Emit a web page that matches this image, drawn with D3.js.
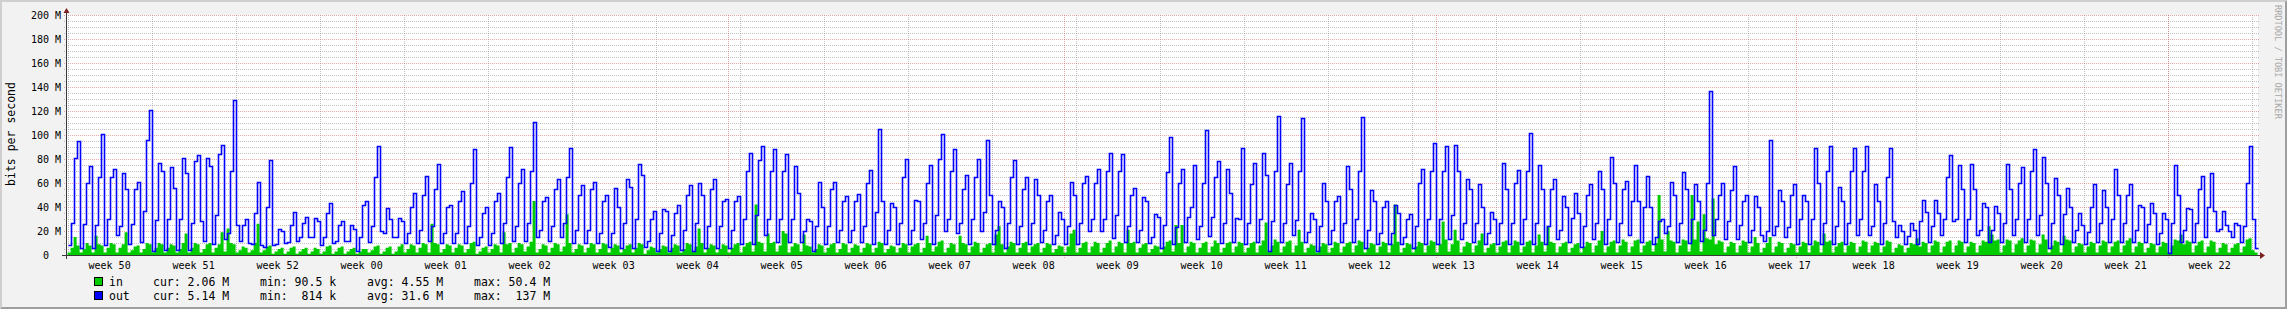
<!DOCTYPE html>
<html>
<head>
<meta charset="utf-8">
<script src="https://cdn.jsdelivr.net/npm/d3@7"></script>
<style>
  body { margin: 0; background: #f2f2f2; }
  svg { display: block; }
  text { font-family: "DejaVu Sans Mono", monospace; fill: #000; }
</style>
</head>
<body>
<svg id="chart" width="2287" height="309"></svg>
<script>

// ---------- data ----------

const weekLabels = ["week 50","week 51","week 52","week 00","week 01","week 02","week 03",
  "week 04","week 05","week 06","week 07","week 08","week 09","week 10","week 11","week 12",
  "week 13","week 14","week 15","week 16","week 17","week 18","week 19","week 20","week 21","week 22"];

const yTicks = [0, 20, 40, 60, 80, 100, 120, 140, 160, 180, 200];
const yTickLabels = ["0  ","20 M","40 M","60 M","80 M","100 M","120 M","140 M","160 M","180 M","200 M"];

const seriesNames = ["in", "out"];
const legendCur = ["2.06 M", "5.14 M"];
const legendMin = ["90.5 k", " 814 k"];
const legendAvg = ["4.55 M", "31.6 M"];
const legendMax = ["50.4 M", " 137 M"];

// 6 hour samples in Mbit/s, first one is Mon 8 Dec 2014 00:00, one line per week
const inValues = [
  2,6,15,8, 2,5,10,8, 2,16,9,8, 2,6,10,9, 2,6,9,19, 2,4,7,8, 2,5,10,9,
  2,6,10,9, 2,6,9,8, 2,5,10,18, 2,6,10,9, 2,5,9,10, 2,6,9,19, 3,22,10,9,
  2,4,7,6, 2,4,10,26, 2,4,7,8, 1,3,5,6, 1,3,6,7, 1,3,5,6, 1,3,6,5,
  1,3,7,8, 1,3,6,7, 1,3,5,6, 1,3,5,5, 2,4,7,8, 1,3,6,7, 1,3,7,9,
  2,5,9,8, 2,6,10,9, 2,26,10,9, 2,5,9,8, 2,6,9,8, 2,5,10,11, 1,3,6,7,
  2,5,9,8, 2,19,9,10, 2,6,10,9, 3,7,11,45, 2,5,9,8, 2,6,10,9, 3,7,34,10,
  2,5,9,8, 2,6,10,9, 2,5,10,9, 2,6,9,8, 2,5,8,9, 2,6,10,9, 1,4,7,6,
  2,5,8,7, 2,6,9,8, 2,5,10,9, 3,7,22,10, 2,6,9,8, 2,5,9,8, 2,6,9,10,
  2,7,10,11, 3,42,11,10, 3,18,10,11, 3,8,20,18, 2,7,10,9, 3,17,8,7, 2,5,9,8,
  2,6,9,10, 2,5,10,9, 2,6,9,8, 2,6,10,9, 2,6,11,10, 2,5,8,7, 2,6,10,9,
  2,7,9,10, 2,6,16,10, 3,7,11,12, 2,6,10,9, 2,16,10,9, 2,7,11,10, 2,6,9,10,
  2,17,24,9, 2,7,11,10, 2,6,10,11, 2,7,9,10, 2,6,10,9, 2,5,8,7, 2,7,18,21,
  2,6,10,11, 2,7,11,10, 2,6,10,12, 2,7,11,10, 2,21,10,11, 2,6,9,10, 2,5,8,7,
  2,7,11,12, 3,25,10,25, 2,7,11,10, 2,6,10,11, 2,7,12,10, 2,6,10,11, 2,7,11,10,
  2,6,10,11, 2,8,12,27, 3,8,13,11, 2,7,11,12, 2,8,21,11, 2,6,9,8, 2,7,10,9,
  2,6,11,10, 2,7,10,11, 2,8,12,11, 2,6,10,9, 2,7,11,10, 2,9,42,11, 2,6,10,9,
  2,7,11,10, 2,8,12,11, 2,9,28,13, 3,9,21,12, 2,7,11,10, 2,8,12,18, 2,6,9,10,
  2,7,11,12, 2,8,12,11, 2,7,11,12, 2,8,17,11, 3,24,11,10, 2,7,10,11, 2,6,9,10,
  2,7,11,10, 2,8,12,20, 2,7,11,12, 2,8,13,11, 2,7,12,13, 2,8,11,12, 3,10,50,13,
  3,20,12,11, 2,8,13,12, 3,50,13,28, 3,34,14,13, 47,9,12,11, 2,7,11,10, 2,8,12,11,
  2,7,15,10, 2,6,10,15, 2,7,11,10, 2,6,10,9, 2,7,11,10, 2,8,12,11, 2,18,11,12,
  2,7,10,11, 2,8,11,10, 2,7,12,11, 2,8,11,10, 2,7,12,11, 2,6,9,8, 2,6,10,9,
  14,7,11,10, 2,8,12,11, 2,7,11,12, 2,8,12,11, 2,7,11,10, 2,8,12,11, 24,17,12,13,
  2,8,13,12, 2,9,12,14, 2,8,13,12, 2,9,17,13, 2,8,12,11, 2,16,13,12, 2,7,10,9,
  2,7,11,10, 2,8,12,11, 2,7,11,12, 2,8,12,14, 2,7,11,10, 2,6,10,9, 2,7,11,10,
  2,8,13,12, 17,9,12,11, 2,8,11,12, 2,7,12,11, 2,6,10,9, 2,6,9,10, 2,7,13,14,
  4,2
];

const outValues = [
  8,27,81,95, 6,26,60,74, 6,25,65,101, 8,30,65,72, 17,24,68,55, 9,26,55,61, 11,37,96,121,
  3,29,77,70, 4,30,73,56, 4,30,81,68, 4,27,78,83, 28,12,81,74, 9,33,84,92, 13,18,70,129,
  25,12,25,30, 10,9,35,61, 8,7,40,79, 8,9,22,20, 10,11,25,36, 12,15,27,32, 15,15,31,28,
  8,15,35,43, 10,12,25,28, 12,12,25,22, 3,15,42,45, 11,24,65,91, 20,18,39,30, 15,15,31,28,
  10,18,40,52, 10,21,50,66, 12,24,55,76, 10,18,40,42, 10,18,45,53, 10,24,60,88, 8,15,35,40,
  8,18,45,52, 10,27,65,90, 12,24,60,72, 12,27,70,111, 15,21,45,48, 12,24,55,63, 15,27,65,89,
  10,21,50,58, 10,21,55,61, 10,18,45,50, 7,18,56,40, 6,27,63,57, 6,30,76,67, 7,12,30,37,
  3,18,38,37, 3,17,35,42, 4,21,50,58, 3,27,60,50, 6,24,55,63, 6,24,45,47, 6,21,45,49,
  9,30,70,85, 9,33,79,91, 17,30,70,88, 11,30,70,84, 11,30,74,52, 11,20,30,28, 3,24,61,40,
  9,24,55,61, 11,21,45,49, 11,21,45,51, 11,24,60,71, 9,36,105,45, 9,21,43,40, 9,27,65,80,
  9,21,46,45, 13,27,60,75, 9,33,80,101, 20,30,70,88, 18,27,55,67, 9,30,65,80, 20,36,96,50,
  9,21,45,40, 6,27,65,79, 9,24,55,65, 9,27,63,50, 11,21,45,50, 9,17,36,30, 9,24,61,50,
  9,27,60,66, 20,30,60,72, 20,30,70,85, 14,33,70,84, 11,24,50,56, 11,21,48,45, 10,15,34,32,
  6,25,69,98, 9,23,60,72, 11,32,40,75, 13,24,60,104, 16,32,65,78, 10,27,72,52, 11,31,30,89,
  9,27,59,77, 11,30,85,67, 3,28,70,116, 11,27,59,77, 17,29,70,114, 11,19,35,30, 3,24,60,45,
  9,21,45,49, 11,27,74,55, 11,30,70,115, 6,21,54,45, 9,18,40,45, 9,18,42,35, 9,15,30,34,
  6,24,60,72, 9,30,70,93, 9,30,70,91, 13,33,92,70, 13,27,63,55, 11,27,59,40, 9,18,36,30,
  9,27,77,55, 9,27,60,71, 9,30,70,102, 9,27,75,55, 9,24,55,63, 13,21,49,40, 11,31,52,35,
  7,24,50,59, 13,27,70,55, 9,30,82,60, 11,27,55,62, 17,45,75,45, 11,40,66,40, 9,15,28,30,
  18,24,61,50, 11,27,69,55, 10,30,59,45, 12,21,60,137, 17,30,50,60, 13,28,54,74, 13,25,45,50,
  11,21,49,40, 17,12,20,96, 17,24,54,45, 15,23,50,59, 9,30,50,45, 9,30,89,60, 9,27,70,91,
  9,24,57,45, 9,27,70,89, 17,30,70,91, 17,24,59,45, 9,27,65,89, 28,15,25,20, 9,16,27,21,
  9,28,46,36, 11,24,46,35, 17,30,65,83, 28,30,75,55, 11,30,76,55, 17,21,43,40, 11,21,41,35,
  11,27,76,55, 17,30,60,73, 11,30,70,88, 17,33,82,60, 6,27,64,50, 9,34,56,40, 11,21,35,25,
  9,19,40,59, 11,27,54,40, 11,30,72,50, 11,27,50,59, 11,21,42,40, 11,26,43,35, 9,18,35,30,
  2,27,75,50, 11,21,39,38, 11,27,55,66, 15,40,68,37, 20,22,37,25, 20,15,27,25, 11,24,60,91,
  30,6
];

// ---------- layout ----------

const W = 2287, H = 309;
const X0 = 66, X1 = 2258, Y0 = 255, Y1 = 15;
const hour = 3600 * 1000;
const start = Date.UTC(2014, 11, 8);
const end = start + 183 * 24 * hour;

const svg = d3.select("#chart");

const x = d3.scaleUtc()
    .domain([new Date(start), new Date(end)])
    .range([67.6, 67.6 + 183 * 12]);

const y = d3.scaleLinear()
    .domain([0, 200])
    .range([Y0, Y1]);

const minorCol = "rgba(143,143,143,0.55)";
const majorCol = "rgba(222,79,79,0.5)";

// background + 3d frame
svg.append("rect").attr("width", W).attr("height", H).attr("fill", "#f2f2f2");
svg.append("path")
    .attr("d", `M0,${H} L2,${H-2} L2,2 L${W-2},2 L${W},0 L0,0 Z`)
    .attr("fill", "#cfcfcf");
svg.append("path")
    .attr("d", `M2,${H-2} L${W-2},${H-2} L${W-2},2 L${W},0 L${W},${H} L0,${H} Z`)
    .attr("fill", "#9e9e9e");

// canvas
svg.append("rect")
    .attr("x", X0).attr("y", Y1)
    .attr("width", X1 - X0).attr("height", Y0 - Y1)
    .attr("fill", "#fff");

// ---------- grid ----------

const grid = svg.append("g")
    .attr("fill", "none")
    .attr("stroke-width", 1)
    .attr("shape-rendering", "crispEdges");

// horizontal: minor every 5 M, major every 20 M
const hLines = d3.range(5, 201, 5);
grid.selectAll(".hgrid")
    .data(hLines)
    .enter()
    .append("path")
    .attr("d", function(v){
      const yy = Math.round(y(v)) + 0.5;
      return `M${X0-2},${yy}H${X1+2}`;
    })
    .attr("stroke", function(v){ return v % 20 == 0 ? majorCol : minorCol; })
    .attr("stroke-dasharray", "1,1");

// vertical: weeks (minor), months (major)
const weeks = d3.utcMonday.range(new Date(start), new Date(start + 182.5 * 24 * hour));
const months = d3.utcMonth.range(new Date(start), new Date(start + 182.5 * 24 * hour));

grid.selectAll(".wgrid")
    .data(weeks)
    .enter()
    .append("path")
    .attr("d", function(d){
      const xx = Math.round(x(d)) + 0.5;
      return `M${xx},${Y1}V${Y0+2}`;
    })
    .attr("stroke", minorCol)
    .attr("stroke-dasharray", "1,1");

grid.selectAll(".mgrid")
    .data(months)
    .enter()
    .append("path")
    .attr("d", function(d){
      const xx = Math.round(x(d)) + 0.5;
      return `M${xx},${Y1}V${Y0+3}`;
    })
    .attr("stroke", majorCol)
    .attr("stroke-dasharray", "1,1");

// ---------- series ----------

function toPoints(vals){
  const pts = vals.map(function(v, i){ return {t: new Date(start + i * 6 * hour), v: v}; });
  pts.push({t: new Date(start + vals.length * 6 * hour), v: vals[vals.length - 1]});
  return pts;
}

const inArea = d3.area()
    .curve(d3.curveStepAfter)
    .x(function(d){ return x(d.t); })
    .y0(y(0))
    .y1(function(d){ return y(d.v); });

const outLine = d3.line()
    .curve(d3.curveStepAfter)
    .x(function(d){ return Math.round(x(d.t)) + 0.5; })
    .y(function(d){ return Math.round(y(d.v)) + 0.5; });

svg.append("path")
    .datum(toPoints(inValues))
    .attr("d", inArea)
    .attr("fill", "#00cc00");

// rrd LINE1 looks heavier than 1px because of its 2h steps, so a bit thicker here
svg.append("path")
    .datum(toPoints(outValues))
    .attr("d", outLine)
    .attr("fill", "none")
    .attr("stroke", "#0000ff")
    .attr("stroke-width", 1.6)
    .attr("stroke-linejoin", "miter");

// ---------- axes ----------

svg.append("path")
    .attr("d", `M${X0-4},${Y0+0.5}H${X1+4}M${X0+0.5},${Y0+4}V${Y1-4}`)
    .attr("stroke", "#3a3a3a")
    .attr("stroke-width", 1)
    .attr("shape-rendering", "crispEdges");

svg.append("path")
    .attr("d", `M${X1+2},${Y0-3}L${X1+2},${Y0+4}L${X1+7},${Y0+0.5}Z` +
               `M${X0-2.5},${Y1-2}L${X0+3.5},${Y1-2}L${X0+0.5},${Y1-7}Z`)
    .attr("fill", "#801f1f");

// y labels
svg.append("g")
    .selectAll("text")
    .data(yTicks)
    .enter()
    .append("text")
    .attr("x", 61)
    .attr("y", function(d){ return Math.round(y(d)) + 4; })
    .attr("text-anchor", "end")
    .style("font-size", "10px")
    .style("white-space", "pre")
    .text(function(d, i){ return yTickLabels[i]; });

// week labels, centred in each week
svg.append("g")
    .selectAll("text")
    .data(weeks.slice(0, weekLabels.length))
    .enter()
    .append("text")
    .attr("x", function(d){ return x(new Date(+d + 3.5 * 24 * hour)); })
    .attr("y", 268.5)
    .attr("text-anchor", "middle")
    .style("font-size", "10px")
    .text(function(d, i){ return weekLabels[i]; });

// unit
svg.append("text")
    .attr("transform", "translate(14.5,134) rotate(-90)")
    .attr("text-anchor", "middle")
    .style("font-size", "11.5px")
    .text("bits per second");

// watermark
svg.append("text")
    .attr("transform", "translate(2275,5) rotate(90)")
    .style("font-size", "8.6px")
    .style("fill", "#a9a9a9")
    .text("RRDTOOL / TOBI OETIKER");

// ---------- legend ----------

const legendColors = ["#00cc00", "#0000ff"];
const legend = svg.append("g")
    .selectAll("g")
    .data(seriesNames)
    .enter()
    .append("g")
    .attr("transform", function(d, i){ return "translate(0," + (i * 14) + ")"; });

legend.append("rect")
    .attr("x", 94.5).attr("y", 277.5)
    .attr("width", 8).attr("height", 8)
    .attr("fill", function(d, i){ return legendColors[i]; })
    .attr("stroke", "#000")
    .attr("stroke-width", 1)
    .attr("shape-rendering", "crispEdges");

const fields = [
  {x: 109, f: function(d, i){ return d; }},
  {x: 153, f: function(d, i){ return "cur: " + legendCur[i]; }},
  {x: 260, f: function(d, i){ return "min: " + legendMin[i]; }},
  {x: 367, f: function(d, i){ return "avg: " + legendAvg[i]; }},
  {x: 474, f: function(d, i){ return "max: " + legendMax[i]; }}
];

fields.forEach(function(fd){
  legend.append("text")
      .attr("x", fd.x)
      .attr("y", 285.5)
      .style("font-size", "11.5px")
      .style("white-space", "pre")
      .text(fd.f);
});

</script>
</body>
</html>
